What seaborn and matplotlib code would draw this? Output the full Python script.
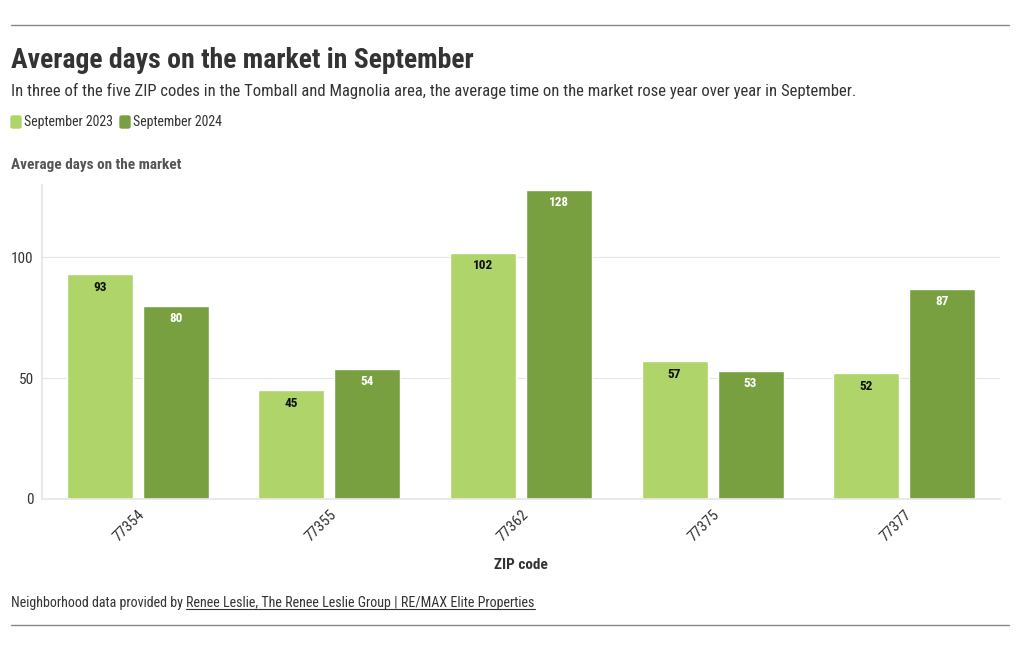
import pandas as pd
import matplotlib.pyplot as plt
import matplotlib.patches as mpatches
from matplotlib.lines import Line2D
import seaborn as sns

# --- data ---
zips = ["77354", "77355", "77362", "77375", "77377"]
sep_2023 = [93, 45, 102, 57, 52]
sep_2024 = [80, 54, 128, 53, 87]
series_names = ["September 2023", "September 2024"]
colors = ["#aed46a", "#78a040"]
label_colors = ["#111111", "#ffffff"]

df = pd.DataFrame({
    "zip": zips * 2,
    "days": sep_2023 + sep_2024,
    "period": [series_names[0]] * len(zips) + [series_names[1]] * len(zips),
})

sns.set_theme(style="white")
plt.rcParams["font.family"] = ["Roboto Condensed", "Liberation Sans Narrow", "Roboto", "DejaVu Sans"]

W, H = 1020, 650
fig = plt.figure(figsize=(W / 100, H / 100), dpi=100)
ax = fig.add_axes([42 / W, 1 - 499 / H, (1000 - 42) / W, (499 - 185) / H])

sns.barplot(data=df, x="zip", y="days", hue="period", palette=colors,
            width=0.793, gap=0.13, ax=ax, legend=False, saturation=1)

ax.set_xlim(-0.5, 4.5)
ax.set_ylim(0, 130)
ax.set_yticks([0, 50, 100])
ax.yaxis.grid(True, color="#e6e6e6", linewidth=0.8)
ax.set_axisbelow(True)
for s in ["top", "right"]:
    ax.spines[s].set_visible(False)
ax.spines["left"].set_color("#e6e6e6")
ax.spines["bottom"].set_color("#e6e6e6")
ax.tick_params(axis="y", length=0, pad=6, labelsize=11, labelcolor="#333333")
ax.tick_params(axis="x", length=4, color="#cccccc", pad=2, labelsize=11, labelcolor="#333333")
for lbl in ax.get_xticklabels():
    lbl.set_rotation(45)
    lbl.set_ha("right")
    lbl.set_rotation_mode("anchor")
ax.set_ylabel("")
ax.set_xlabel("ZIP code", fontsize=11, fontweight="bold", color="#333333", labelpad=10)

# value labels inside bar tops
for container, c in zip(ax.containers, label_colors):
    ax.bar_label(container, label_type="edge", padding=-14, color=c,
                 fontsize=9.5, fontweight="bold")

# --- header / footer text ---
fig.text(11 / W, 1 - 57 / H, "Average days on the market in September",
         fontsize=20, fontweight="bold", color="#333333", va="center_baseline")
fig.text(11 / W, 1 - 91 / H,
         "In three of the five ZIP codes in the Tomball and Magnolia area, the average time on the market rose year over year in September.",
         fontsize=12, color="#333333", va="center")

x0 = 11
for name, c in zip(series_names, colors):
    fig.patches.append(mpatches.FancyBboxPatch((x0 / W, 1 - 128 / H), 10 / W, 12 / H,
                                               boxstyle="round,pad=0,rounding_size=0.002",
                                               transform=fig.transFigure, color=c))
    t = fig.text((x0 + 13) / W, 1 - 122 / H, name, fontsize=10, color="#333333", va="center")
    fig.canvas.draw()
    bb = t.get_window_extent()
    x0 = bb.x1 + 7

fig.text(11 / W, 1 - 165 / H, "Average days on the market", fontsize=11,
         fontweight="bold", color="#555555", va="center")

t1 = fig.text(11 / W, 1 - 603 / H, "Neighborhood data provided by ", fontsize=10.1,
              color="#333333", va="center")
fig.canvas.draw()
bb1 = t1.get_window_extent()
t2 = fig.text(bb1.x1 / W, 1 - 603 / H, "Renee Leslie, The Renee Leslie Group | RE/MAX Elite Properties",
              fontsize=10.1, color="#333333", va="center")
fig.canvas.draw()
bb2 = t2.get_window_extent()
fig.add_artist(Line2D([bb2.x0 / W, bb2.x1 / W], [(bb2.y0 + 1) / H] * 2,
                      transform=fig.transFigure, color="#333333", linewidth=0.8))

# top and bottom rules
for yy in [25, 625]:
    fig.add_artist(Line2D([11 / W, 1009 / W], [1 - yy / H] * 2,
                          transform=fig.transFigure, color="#888888", linewidth=1))

fig.savefig("out.png", dpi=100, facecolor="white")
